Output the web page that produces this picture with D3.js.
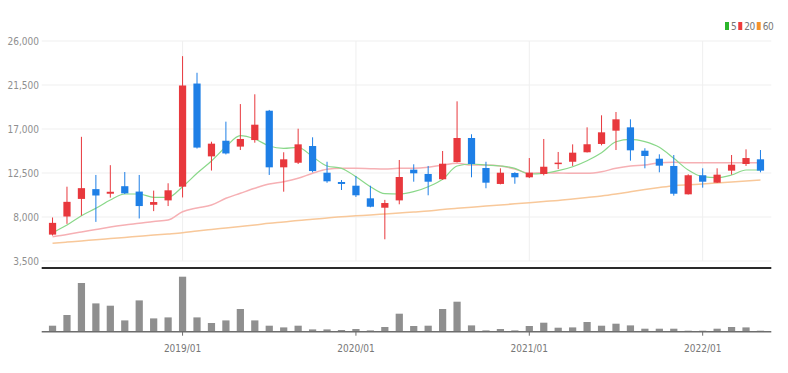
<!DOCTYPE html>
<html><head><meta charset="utf-8">
<script src="https://cdn.jsdelivr.net/npm/d3@7"></script>
<style>
html,body{margin:0;padding:0;background:#fff;}
svg{display:block;}
text{font-family:"Liberation Sans Narrow","DejaVu Sans Condensed","Liberation Sans",sans-serif;}
</style></head>
<body>
<svg id="chart" width="788" height="373"></svg>
<script>
const months = ["2018/04","2018/05","2018/06","2018/07","2018/08","2018/09","2018/10","2018/11","2018/12",
"2019/01","2019/02","2019/03","2019/04","2019/05","2019/06","2019/07","2019/08","2019/09","2019/10","2019/11","2019/12",
"2020/01","2020/02","2020/03","2020/04","2020/05","2020/06","2020/07","2020/08","2020/09","2020/10","2020/11","2020/12",
"2021/01","2021/02","2021/03","2021/04","2021/05","2021/06","2021/07","2021/08","2021/09","2021/10","2021/11","2021/12",
"2022/01","2022/02","2022/03","2022/04","2022/05"];
const open  = [6200,8050,9850,10850,10380,11150,10600,9250,9700,11100,21650,14200,15800,15200,15870,18870,13080,13550,15260,12530,11580,11200,9910,8950,9700,12840,12400,11860,13620,16080,13010,11380,12500,12060,12400,13420,13650,14620,15470,16830,17170,14780,13960,13220,10320,12270,11510,12740,13420,13900];
const high  = [7950,11100,16200,12300,13300,12600,12300,10700,11450,24450,22750,15700,17750,19550,20550,18950,14620,17030,16150,13650,11780,12190,11200,9750,13830,13390,13220,14750,19830,16460,13650,12980,12580,14030,15980,14650,15430,17170,18400,18740,17990,15030,14410,14340,12370,12980,12980,14340,14920,14850];
const low   = [6100,7300,8150,7500,9980,10350,7850,8600,9120,10000,15000,12750,14400,14850,15600,12300,10590,13420,12570,11500,10760,10050,8990,5720,9300,11610,10220,11800,13580,12060,10940,11340,11400,11980,12260,12900,13220,14600,15330,14850,13760,12980,12570,10180,10300,11000,11480,12330,13220,12570];
const close = [7400,9550,10950,10200,10580,10420,9120,9530,10730,21450,15100,15500,14500,15980,17440,13080,13900,15430,12700,11650,11380,10220,9050,9430,12090,12470,11610,13450,16080,13420,11510,12530,12060,12530,13140,13560,14580,15440,16660,17990,14820,14240,13250,10380,12270,11610,12330,13350,14030,12740];
const volume = [6000,16700,48700,28300,26000,11300,31300,13300,14300,55000,14300,8700,11300,22700,11300,6000,4300,6000,2300,2300,1700,2700,1300,4700,18000,5700,6000,22700,30000,6300,1300,2700,1300,5700,9000,4000,4300,9700,6000,8000,6300,3000,3000,3000,1000,1000,3000,4700,4300,1000];
const ma5  = [6394,7182,8133,8890,9738,10352,10352,10015,10015,11099,12469,13727,15189,16315,15977,15261,15026,15128,14167,13216,12980,12121,11099,10383,10352,10587,11099,11855,13216,13420,13318,13216,12980,12397,12469,12735,13144,13758,14576,15701,15946,15701,15128,14003,12807,12121,12019,12295,12807,12807];
const ma20 = [5985,6210,6466,6722,6977,7182,7356,7540,7693,8542,8920,9227,9912,10424,10935,11375,11610,11958,12469,12878,12980,12980,12940,12909,12980,12980,13083,13318,13492,13318,13318,13216,12909,12469,12530,12500,12469,12469,12632,12980,13216,13318,13553,13594,13553,13553,13553,13553,13553,13553];
const ma60 = [5310,5433,5556,5668,5791,5914,6036,6159,6271,6394,6568,6722,6875,7028,7182,7356,7489,7642,7765,7898,8031,8123,8204,8307,8409,8511,8614,8767,8890,9002,9125,9227,9350,9462,9585,9687,9841,9994,10148,10352,10587,10812,11017,11201,11293,11375,11477,11579,11682,11784];
const priceTicks = [3500,8000,12500,17000,21500,26000];
const yearTicks = ["2019/01","2020/01","2021/01","2022/01"];
const legendItems = [{label:"5",color:"#2bb52b"},{label:"20",color:"#ee3b3b"},{label:"60",color:"#f5922a"}];

const UP="#e8383d", DOWN="#1e7fe6";
const FONT='"Liberation Sans Narrow","DejaVu Sans Condensed",sans-serif';
const svg = d3.select("#chart");
const L=41.7, R=771.3;
const x = d3.scaleBand().domain(months).range([L,R]).padding(0.5);
const cx = m => x(m) + x.bandwidth()/2;
const y = d3.scaleLinear().domain([3500,26000]).range([261,41]);
const yv = d3.scaleLinear().domain([0,60000]).range([331.7,271.7]);

// grid
svg.append("g").selectAll("line").data(priceTicks).join("line")
  .attr("x1",L).attr("x2",R).attr("y1",d=>y(d)).attr("y2",d=>y(d))
  .attr("stroke","#efefef").attr("stroke-width",1);
svg.append("g").selectAll("line").data(yearTicks).join("line")
  .attr("x1",d=>cx(d)).attr("x2",d=>cx(d)).attr("y1",41).attr("y2",261)
  .attr("stroke","#efefef").attr("stroke-width",1);

// y axis labels
const yAxis = d3.axisLeft(y).tickValues(priceTicks).tickFormat(d3.format(",")).tickSize(0).tickPadding(0);
const ga = svg.append("g").attr("transform",`translate(39,0)`).call(yAxis);
ga.select(".domain").remove();
ga.selectAll("text").attr("fill","#8f8f8f").style("font-size","10px").style("font-family",FONT);

// MA lines
const line = arr => d3.line().x((d,i)=>cx(months[i])).y(d=>y(d)).curve(d3.curveMonotoneX)(arr);
svg.append("path").attr("d",line(ma60)).attr("fill","none").attr("stroke","#f8c89a").attr("stroke-width",1.5);
svg.append("path").attr("d",line(ma20)).attr("fill","none").attr("stroke","#f6b0b4").attr("stroke-width",1.5);
svg.append("path").attr("d",line(ma5)).attr("fill","none").attr("stroke","#8ad88a").attr("stroke-width",1.2);

// candles
const idx = d3.range(months.length);
const cg = svg.append("g");
cg.selectAll("line").data(idx).join("line")
  .attr("x1",i=>cx(months[i])).attr("x2",i=>cx(months[i]))
  .attr("y1",i=>y(high[i])).attr("y2",i=>y(low[i]))
  .attr("stroke",i=>close[i]>=open[i]?UP:DOWN).attr("stroke-width",1);
cg.selectAll("rect").data(idx).join("rect")
  .attr("x",i=>x(months[i])).attr("width",x.bandwidth())
  .attr("y",i=>y(Math.max(open[i],close[i])))
  .attr("height",i=>Math.max(1.5,Math.abs(y(open[i])-y(close[i]))))
  .attr("fill",i=>close[i]>=open[i]?UP:DOWN);

// separator
svg.append("line").attr("x1",L).attr("x2",R).attr("y1",268).attr("y2",268)
  .attr("stroke","#2a2a2a").attr("stroke-width",2);

// volume
svg.append("g").selectAll("rect").data(idx).join("rect")
  .attr("x",i=>x(months[i])).attr("width",x.bandwidth())
  .attr("y",i=>yv(volume[i])).attr("height",i=>yv(0)-yv(volume[i]))
  .attr("fill","#8f8f8f");

const xAxis = d3.axisBottom(x).tickValues(yearTicks).tickSize(4).tickPadding(9);
const gx = svg.append("g").attr("transform",`translate(0,${yv(0)})`).call(xAxis);
gx.select(".domain").attr("stroke","#6d6d6d").attr("stroke-width",1.5).attr("d",`M${L},0H${R}`);
gx.selectAll(".tick line").attr("stroke","#6d6d6d");
gx.selectAll("text").attr("fill","#777").style("font-size","10px").style("font-family",FONT);

// legend
const lg = svg.append("g").attr("transform","translate(725,27)");
let lx = 0;
legendItems.forEach(it=>{
  lg.append("rect").attr("x",lx).attr("y",-5).attr("width",4).attr("height",8).attr("fill",it.color);
  const t = lg.append("text").attr("x",lx+6).attr("y",3).text(it.label).attr("fill","#777")
    .style("font-size","10px").style("font-family",FONT).style("letter-spacing","-0.5px");
  lx += 6 + t.node().getComputedTextLength() + 2;
});
</script>
</body></html>
